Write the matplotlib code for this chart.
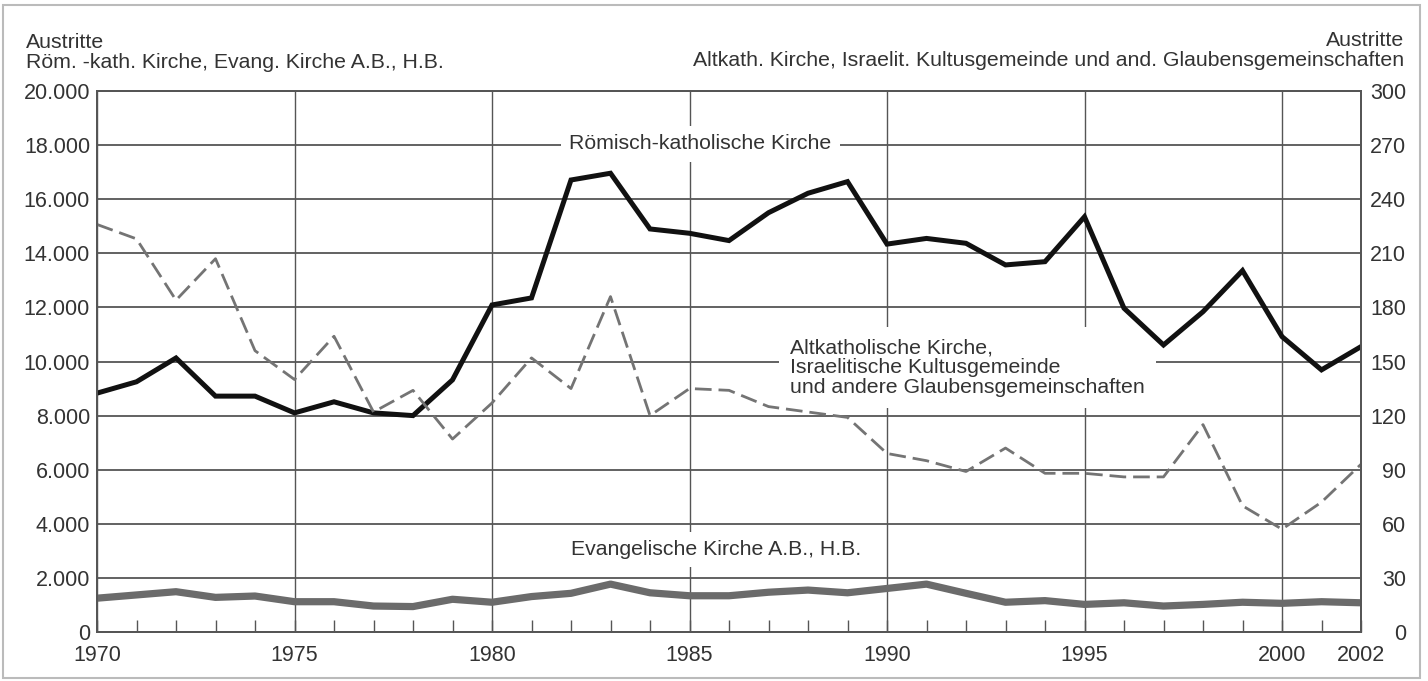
import matplotlib
matplotlib.use("Agg")
import matplotlib.pyplot as plt
from matplotlib.patches import Rectangle
from matplotlib.ticker import FixedLocator, MultipleLocator, FuncFormatter

plt.rcParams['font.family'] = ['Liberation Sans', 'DejaVu Sans']

years = list(range(1970, 2003))
rk = [8830, 9250, 10130, 8720, 8720, 8100, 8510, 8100, 8000, 9320,
      12090, 12350, 16710, 16960, 14900, 14740, 14470, 15500, 16220, 16650,
      14340, 14550, 14370, 13570, 13690, 15350, 11970, 10610, 11840, 13360,
      10920, 9690, 10550]
evang = [1250, 1370, 1490, 1280, 1330, 1120, 1120, 960, 940, 1210,
         1100, 1310, 1430, 1770, 1450, 1340, 1340, 1470, 1550, 1450,
         1610, 1770, 1430, 1100, 1160, 1020, 1080, 960, 1020, 1100,
         1060, 1120, 1080]
alt = [226, 218, 184, 207, 156, 140, 164, 122, 134, 107,
       127, 152, 135, 186, 120, 135, 134, 125, 122, 119,
       99, 95, 89, 102, 88, 88, 86, 86, 115, 70,
       57, 72, 93]

x_major = [1970, 1975, 1980, 1985, 1990, 1995, 2000, 2002]
left_ticks = list(range(0, 20001, 2000))
right_ticks = list(range(0, 301, 30))

hdr_left = ["Austritte", "Röm. -kath. Kirche, Evang. Kirche A.B., H.B."]
hdr_right = ["Austritte", "Altkath. Kirche, Israelit. Kultusgemeinde und and. Glaubensgemeinschaften"]
lbl_rk = "Römisch-katholische Kirche"
lbl_alt = "Altkatholische Kirche,\nIsraelitische Kultusgemeinde\nund andere Glaubensgemeinschaften"
lbl_ev = "Evangelische Kirche A.B., H.B."

TXT = '#333333'
GRID = '#555555'
FS = 15.3
FST = 15.5

W, H = 1428, 681
fig = plt.figure(figsize=(W / 100, H / 100), dpi=100)
ax = fig.add_axes([97 / W, 1 - 632 / H, (1361 - 97) / W, (632 - 91) / H])
ax2 = ax.twinx()

ax.set_xlim(1970, 2002)
ax.set_ylim(0, 20000)
ax2.set_ylim(0, 300)

ax.set_axisbelow(True)
ax.xaxis.set_major_locator(FixedLocator(x_major))
ax.xaxis.set_minor_locator(MultipleLocator(1))
ax.set_yticks(left_ticks)
ax.yaxis.set_major_formatter(FuncFormatter(lambda v, p: f"{int(v):,}".replace(",", ".")))
ax2.set_yticks(right_ticks)

ax.grid(True, axis='y', color=GRID, lw=1.3)
for xv in x_major[:-1]:
    ax.axvline(xv, color=GRID, lw=1.0, zorder=0.5)

ax.tick_params(axis='x', which='both', direction='in', length=9, width=1.0,
               color=GRID, labelsize=FST, labelcolor=TXT, pad=9.5)
ax.tick_params(axis='y', length=0, labelsize=FST, labelcolor=TXT, pad=5)
ax2.tick_params(axis='y', length=0, labelsize=FST, labelcolor=TXT, pad=32.5)
for lb in ax2.get_yticklabels():
    lb.set_horizontalalignment('right')

for a in (ax, ax2):
    for s in a.spines.values():
        s.set_color(GRID)
        s.set_linewidth(1.3)

ax.plot(years, evang, color='#6b6b6b', lw=5.2, solid_joinstyle='round', zorder=2)
ax.plot(years, rk, color='#111111', lw=3.6, solid_joinstyle='miter', zorder=2.5)
ax2.plot(years, alt, color='#747474', lw=2.0, dashes=(6, 2.5), zorder=2)

box = dict(facecolor='white', edgecolor='none', pad=6)
ax.text(1985.27, 18050, lbl_rk, ha='center', va='center', fontsize=FS, color=TXT,
        bbox=box, zorder=2.2)
ax.text(1987.55, 9780, lbl_alt, ha='left', va='center', fontsize=FS, color=TXT,
        linespacing=1.05, bbox=dict(facecolor='white', edgecolor='none', pad=8), zorder=2.2)
ax.text(1985.67, 3050, lbl_ev, ha='center', va='center', fontsize=FS, color=TXT,
        bbox=box, zorder=2.2)

fig.text(26 / W, 1 - 42 / H, hdr_left[0], ha='left', va='center', fontsize=FS, color=TXT)
fig.text(26 / W, 1 - 63 / H, hdr_left[1], ha='left', va='center', fontsize=FS, color=TXT)
fig.text(1404 / W, 1 - 40 / H, hdr_right[0], ha='right', va='center', fontsize=FS, color=TXT)
fig.text(1404 / W, 1 - 60 / H, hdr_right[1], ha='right', va='center', fontsize=FS, color=TXT)

fig.add_artist(Rectangle((3 / W, 3 / H), (1420 - 3) / W, (676 - 3) / H,
                         transform=fig.transFigure, fill=False,
                         edgecolor='#bbbbbb', lw=1.5))

fig.savefig("out.png", dpi=100, facecolor='white')
